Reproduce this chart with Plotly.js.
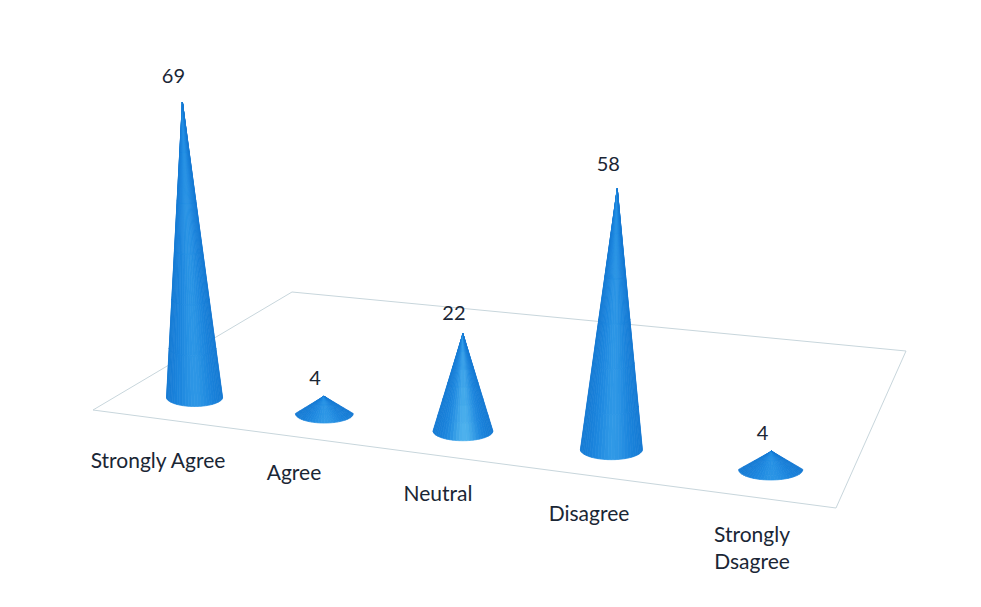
<!DOCTYPE html>
<html><head><meta charset="utf-8">
<script src="https://cdn.plot.ly/plotly-3.0.1.min.js"></script>
<style>html,body{margin:0;padding:0;background:#fff}#c{width:981px;height:607px}</style></head>
<body><div id="c"></div>
<script>
const categories = ["Strongly Agree","Agree","Neutral","Disagree","Strongly<br>Dsagree"];
const values = [69,4,22,58,4];
// perspective set-up of the floor plane (layout, not data)
const floorCorners = [[93,410],[836,508],[906,351],[292,292]];
const labelAnchors = [[158,463],[294,475],[438,496],[589,516],[752,550]];
const verticalVP = [465,6970];
const conePlacement = {offset:0.535, depth:0.15, radius:28.5, squash:0.33};
const valueScale = 4.31, labelDx = -9;
const highlight = [0.25,0.3,0.8,0.3,0.2];

function makeHomography(c){
  const [p0,p1,p2,p3]=c;
  const dx1=p1[0]-p2[0],dx2=p3[0]-p2[0],sx=p0[0]-p1[0]+p2[0]-p3[0];
  const dy1=p1[1]-p2[1],dy2=p3[1]-p2[1],sy=p0[1]-p1[1]+p2[1]-p3[1];
  const den=dx1*dy2-dx2*dy1;
  const g=(sx*dy2-dx2*sy)/den,h=(dx1*sy-sx*dy1)/den;
  const a=p1[0]-p0[0]+g*p1[0],b=p3[0]-p0[0]+h*p3[0],d=p1[1]-p0[1]+g*p1[1],e=p3[1]-p0[1]+h*p3[1];
  return (s,t)=>{const w=1+g*s+h*t;return {x:(a*s+b*t+p0[0])/w,y:(d*s+e*t+p0[1])/w,w};};
}
const floor=makeHomography(floorCorners);
const lerp=(a,b,t)=>a+(b-a)*t;
const edge=[20,120,210], mid=[30,138,226], light=[92,190,240];
function shadeColor(f,h,amt){
  const c=Math.exp(-Math.pow((f-0.5)/0.3,2));
  const g=Math.exp(-Math.pow((f-0.52)/0.13,2))*amt*(1-0.6*h);
  const col=[0,1,2].map(i=>{const b=lerp(edge[i],mid[i],c);return Math.round(lerp(b,light[i],g));});
  return `rgb(${col})`;
}
const traces=[];
const ring=[...floorCorners,floorCorners[0]];
traces.push({type:'scatter',mode:'lines',x:ring.map(p=>p[0]),y:ring.map(p=>p[1]),
  line:{color:'#c8d6dc',width:1},hoverinfo:'skip'});
const nA=28,nH=6;
const apexes=[];
values.forEach((v,i)=>{
  const p=floor((i+conePlacement.offset)/categories.length,conePlacement.depth);
  const hPx=v*valueScale/Math.sqrt(p.w);
  const len=verticalVP[1]-p.y, t=hPx/len;
  const apex={x:p.x+(p.x-verticalVP[0])*t,y:p.y-hPx};
  apexes.push(apex);
  const r=conePlacement.radius/p.w,e=conePlacement.squash;
  const base=a=>({x:p.x+r*Math.cos(a),y:p.y-r*e*Math.sin(a)});
  for(let k=0;k<nA;k++){
    const a0=Math.PI+Math.PI*k/nA,a1=Math.PI+Math.PI*(k+1)/nA;
    const b0=base(a0),b1=base(a1);
    for(let m=0;m<nH;m++){
      const h0=m/nH,h1=(m+1)/nH;
      const xs=[lerp(b0.x,apex.x,h0),lerp(b1.x,apex.x,h0),lerp(b1.x,apex.x,h1),lerp(b0.x,apex.x,h1)];
      const ys=[lerp(b0.y,apex.y,h0),lerp(b1.y,apex.y,h0),lerp(b1.y,apex.y,h1),lerp(b0.y,apex.y,h1)];
      const col=shadeColor((k+0.5)/nA,(m+0.5)/nH,highlight[i]);
      traces.push({type:'scatter',mode:'lines',x:[...xs,xs[0]],y:[...ys,ys[0]],fill:'toself',fillcolor:col,
        line:{color:col,width:0.7},hoverinfo:'skip'});
    }
  }
});
const valueFont={family:'Lato, "Open Sans", sans-serif',size:20,color:'#1a2635'};
const catFont={family:'Lato, "Open Sans", sans-serif',size:21,color:'#1a2635'};
traces.push({type:'scatter',mode:'text',x:apexes.map(a=>a.x+labelDx),y:apexes.map((a,i)=>a.y-(16+values[i]*0.12)),
  text:values.map(String),textposition:'middle center',textfont:valueFont,hoverinfo:'skip'});
traces.push({type:'scatter',mode:'text',x:labelAnchors.map(p=>p[0]),y:labelAnchors.map(p=>p[1]),
  text:categories,textposition:'middle center',textfont:catFont,hoverinfo:'skip'});
Plotly.newPlot('c',traces,{
  width:981,height:607,margin:{l:0,r:0,t:0,b:0},showlegend:false,paper_bgcolor:'#fff',plot_bgcolor:'#fff',
  xaxis:{range:[0,981],visible:false,fixedrange:true},
  yaxis:{range:[607,0],visible:false,fixedrange:true}
},{displayModeBar:false,staticPlot:true});
</script></body></html>
